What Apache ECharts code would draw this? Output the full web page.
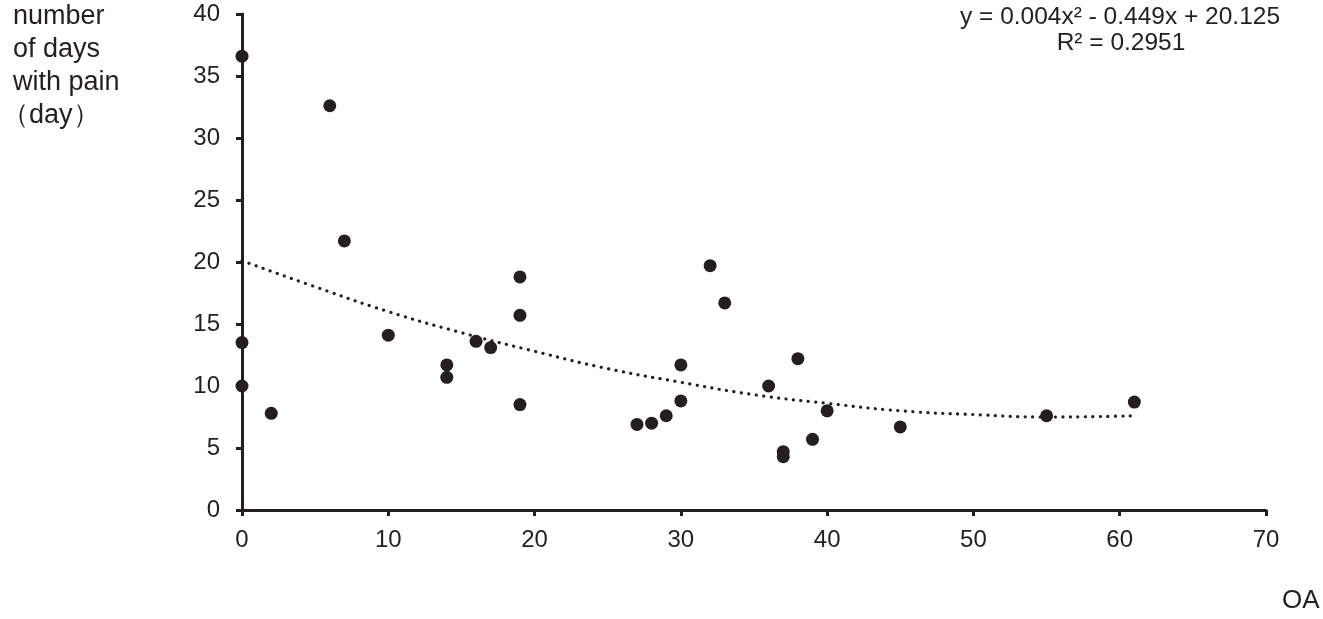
<!DOCTYPE html>
<html>
<head>
<meta charset="utf-8">
<script src="https://cdn.jsdelivr.net/npm/echarts@6/dist/echarts.min.js"></script>
<style>
  html, body { margin: 0; padding: 0; background: #fff; }
  #chart { width: 1323px; height: 619px; }
</style>
</head>
<body>
<div id="chart"></div>
<script>
// OA value vs number of days with pain
const oaValues = [0, 0, 0, 2, 6, 7, 10, 14, 14, 16, 17, 19, 19, 19, 27, 28, 29, 30, 30, 32, 33, 36, 37, 37, 38, 39, 40, 45, 55, 61];
const painDays = [36.6, 13.5, 10.0, 7.8, 32.6, 21.7, 14.1, 11.7, 10.7, 13.6, 13.1, 18.8, 15.7, 8.5, 6.9, 7.0, 7.6, 11.7, 8.8, 19.7, 16.7, 10.0, 4.7, 4.3, 12.2, 5.7, 8.0, 6.7, 7.6, 8.7];

// polynomial trend line
const trendX = [0, 5, 10, 15, 20, 25, 30, 35, 40, 45, 50, 55, 61];
const trendY = [20.1, 18.0, 16.0, 14.3, 12.8, 11.4, 10.3, 9.3, 8.6, 8.0, 7.7, 7.5, 7.6];

const yTicks = { min: 0, max: 40, interval: 5 };
const xTicks = { min: 0, max: 70, interval: 10 };

const ink = '#231f20';
const font = 'Arial, "Liberation Sans", sans-serif';

const chart = echarts.init(document.getElementById('chart'));

const option = {
    backgroundColor: '#fff',
    animation: false,
    grid: { left: 242, right: 57, top: 14, bottom: 109 },
    xAxis: {
        type: 'value',
        min: xTicks.min,
        max: xTicks.max,
        interval: xTicks.interval,
        axisLine: { lineStyle: { color: ink, width: 3 } },
        axisTick: { show: true, length: 6, inside: false, lineStyle: { color: ink, width: 3 } },
        axisLabel: { color: ink, fontSize: 24, fontFamily: font, margin: 18 },
        splitLine: { show: false }
    },
    yAxis: {
        type: 'value',
        min: yTicks.min,
        max: yTicks.max,
        interval: yTicks.interval,
        axisLine: { show: true, lineStyle: { color: ink, width: 3 } },
        axisTick: { show: true, length: 6, inside: false, lineStyle: { color: ink, width: 3 } },
        axisLabel: { color: ink, fontSize: 24, fontFamily: font, margin: 22 },
        splitLine: { show: false }
    },
    graphic: [
        {
            type: 'text',
            left: 13,
            top: 0,
            style: {
                text: 'number\nof days\nwith pain',
                fill: ink,
                font: '27px ' + font,
                lineHeight: 33
            }
        },
        {
            type: 'text',
            left: 2,
            top: 99,
            style: { text: '（day）', fill: ink, font: '27px ' + font, lineHeight: 33 }
        },
        {
            type: 'text',
            left: 1282,
            top: 588,
            style: { text: 'OA', fill: ink, font: '26px ' + font }
        },
        {
            type: 'text',
            x: 1120,
            y: 5,
            style: {
                text: 'y = 0.004x² - 0.449x + 20.125',
                fill: ink,
                font: '24.5px ' + font,
                align: 'center'
            }
        },
        {
            type: 'text',
            x: 1121,
            y: 31,
            style: { text: 'R² = 0.2951', fill: ink, font: '24.5px ' + font, align: 'center' }
        }
    ],
    series: [
        {
            type: 'line',
            data: trendX.map((x, i) => [x, trendY[i]]),
            smooth: true,
            symbol: 'none',
            lineStyle: { color: ink, width: 3.2, type: [0.1, 7.4], cap: 'round' },
            z: 1
        },
        {
            type: 'scatter',
            data: oaValues.map((x, i) => [x, painDays[i]]),
            symbol: 'circle',
            symbolSize: 13,
            itemStyle: { color: ink, opacity: 1 },
            z: 2
        }
    ]
};

chart.setOption(option);

window.addEventListener('resize', function () {
    chart.resize();
});
</script>
</body>
</html>
